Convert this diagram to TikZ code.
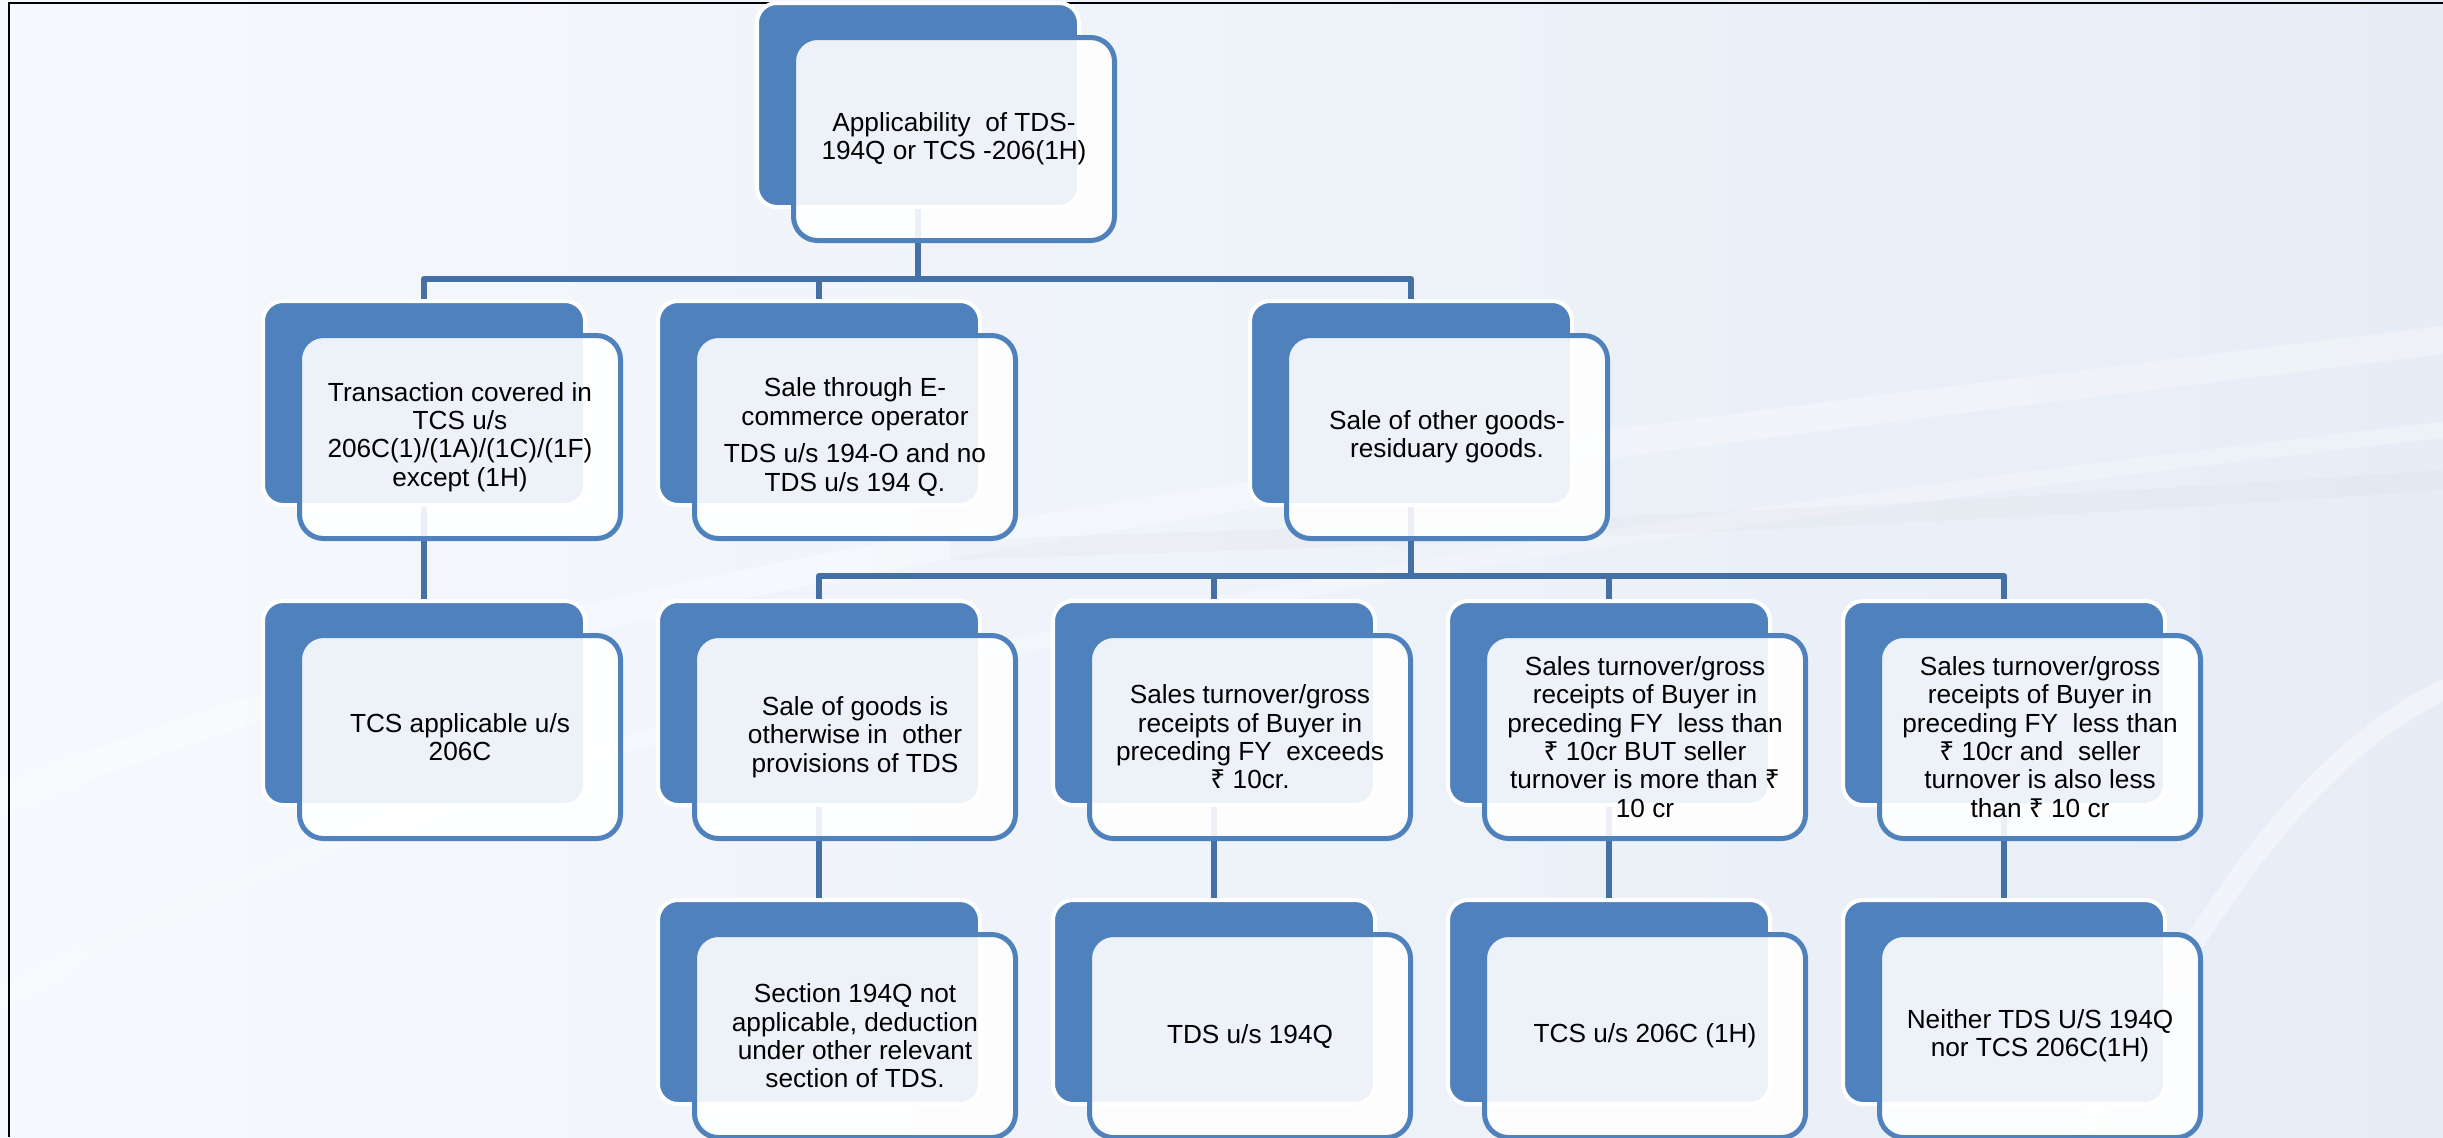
\documentclass[tikz,border=0pt]{standalone}
\usepackage{fontspec}
\setmainfont{Liberation Sans}
\newfontfamily\rupfont{Noto Sans}
\newcommand\rs{{\rupfont ₹}}
\definecolor{bblue}{HTML}{4F81BD}
\definecolor{cline}{HTML}{4470A6}
\definecolor{bgl}{HTML}{F6F9FD}
\definecolor{bgr}{HTML}{E7EDF6}
\tikzset{
 backbox/.style={rectangle, rounded corners=10pt, fill=bblue, draw=white, line width=2pt,
   minimum width=161pt, minimum height=102pt, inner sep=0pt},
 frontbox/.style={rectangle, rounded corners=12pt, fill=white, fill opacity=0.9, text opacity=1,
   draw=bblue, draw opacity=1, line width=2.5pt, minimum width=160.5pt, minimum height=101.5pt,
   align=center, font=\fontsize{13.1pt}{14.2pt}\selectfont, inner sep=2pt},
 conn/.style={draw=cline, line width=3pt, line join=round},
 swoosh/.style={draw=white, line cap=round},
}
\begin{document}
\begin{tikzpicture}[x=0.5pt,y=-0.5pt]
\useasboundingbox (0,0) rectangle (2443,1137);
% background
\fill[left color=bgl, right color=bgr] (0,0) rectangle (2443,1137);
\draw[swoosh, opacity=0.3, line width=14pt] (0,800) .. controls (600,560) and (1300,480) .. (2443,340);
\draw[swoosh, opacity=0.25, line width=8pt] (0,1000) .. controls (500,720) and (1200,570) .. (2443,430);
\draw[draw=gray, opacity=0.035, line width=10pt] (950,550) .. controls (1300,538) and (1800,525) .. (2443,480);
\draw[swoosh, opacity=0.4, line width=10pt] (2080,1137) .. controls (2200,920) and (2300,760) .. (2443,690);
% frame
\draw[black, line width=1.2pt] (9,1137) -- (9,3) -- (2443,3);
% back boxes
\node[backbox] (b1)  at (918,105) {};
\node[backbox] (b21) at (424,403) {};
\node[backbox] (b22) at (819,403) {};
\node[backbox] (b23) at (1411,403) {};
\node[backbox] (b31) at (424,703) {};
\node[backbox] (b32) at (819,703) {};
\node[backbox] (b33) at (1214,703) {};
\node[backbox] (b34) at (1609,703) {};
\node[backbox] (b35) at (2004,703) {};
\node[backbox] (b42) at (819,1002) {};
\node[backbox] (b43) at (1214,1002) {};
\node[backbox] (b44) at (1609,1002) {};
\node[backbox] (b45) at (2004,1002) {};
% connectors
\draw[conn] (b1.south) -- ++(0,70) -| (b21.north);
\draw[conn] (b1.south) -- ++(0,70) -| (b22.north);
\draw[conn] (b1.south) -- ++(0,70) -| (b23.north);
\draw[conn] (b21.south) -- (b31.north);
\draw[conn] (b23.south) -- ++(0,69) -| (b32.north);
\draw[conn] (b23.south) -- ++(0,69) -| (b33.north);
\draw[conn] (b23.south) -- ++(0,69) -| (b34.north);
\draw[conn] (b23.south) -- ++(0,69) -| (b35.north);
\draw[conn] (b32.south) -- (b42.north);
\draw[conn] (b33.south) -- (b43.north);
\draw[conn] (b34.south) -- (b44.north);
\draw[conn] (b35.south) -- (b45.north);
% front boxes
\node[frontbox] (f1) at ([shift={(36,34)}]b1.center) {Applicability\ \ of TDS-\\194Q or TCS -206(1H)};
\node[frontbox] (f21) at ([shift={(36,34)}]b21.center) {Transaction covered in\\TCS u/s\\206C(1)/(1A)/(1C)/(1F)\\except (1H)};
\node[frontbox] (f22) at ([shift={(36,34)}]b22.center) {Sale through E-\\commerce operator\\[4.5pt]TDS u/s 194-O and no\\TDS u/s 194 Q.};
\node[frontbox] (f23) at ([shift={(36,34)}]b23.center) {Sale of other goods-\\residuary goods.};
\node[frontbox] (f31) at ([shift={(36,34)}]b31.center) {TCS applicable u/s\\206C};
\node[frontbox] (f32) at ([shift={(36,34)}]b32.center) {Sale of goods is\\otherwise in\ \ other\\provisions of TDS};
\node[frontbox] (f33) at ([shift={(36,34)}]b33.center) {Sales turnover/gross\\receipts of Buyer in\\preceding FY\ \ exceeds\\\rs{} 10cr.};
\node[frontbox] (f34) at ([shift={(36,34)}]b34.center) {Sales turnover/gross\\receipts of Buyer in\\preceding FY\ \ less than\\\rs{} 10cr BUT seller\\turnover is more than \rs\\10 cr};
\node[frontbox] (f35) at ([shift={(36,34)}]b35.center) {Sales turnover/gross\\receipts of Buyer in\\preceding FY\ \ less than\\\rs{} 10cr and\ \ seller\\turnover is also less\\than \rs{} 10 cr};
\node[frontbox] (f42) at ([shift={(36,34)}]b42.center) {Section 194Q not\\applicable, deduction\\under other relevant\\section of TDS.};
\node[frontbox] (f43) at ([shift={(36,34)}]b43.center) {TDS u/s 194Q};
\node[frontbox] (f44) at ([shift={(36,34)}]b44.center) {TCS u/s 206C (1H)};
\node[frontbox] (f45) at ([shift={(36,34)}]b45.center) {Neither TDS U/S 194Q\\nor TCS 206C(1H)};
\end{tikzpicture}
\end{document}
